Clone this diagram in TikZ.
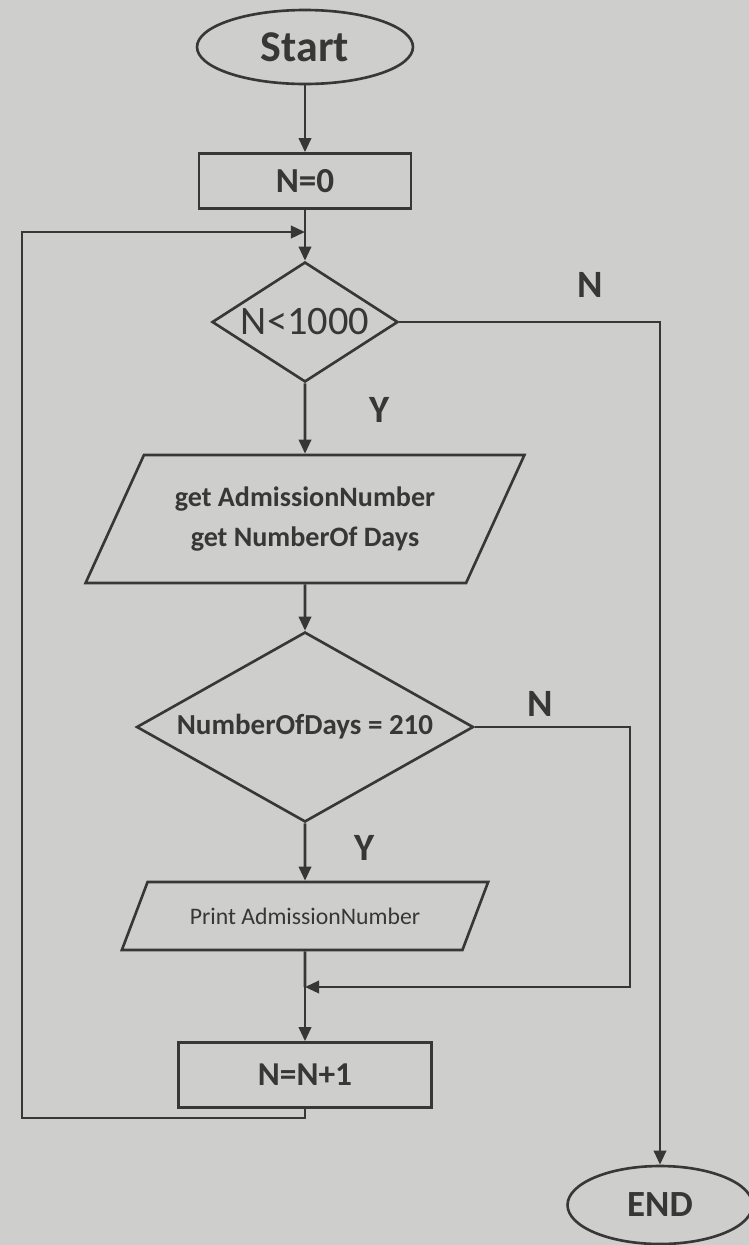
\documentclass[tikz,border=0pt]{standalone}
\usepackage{fontspec}
\setmainfont{Carlito}
\usetikzlibrary{arrows.meta, shapes.geometric, positioning}
\definecolor{paper}{RGB}{206,206,204}
\definecolor{ink}{RGB}{55,55,55}

\begin{document}
\begin{tikzpicture}[
		x = 0.02cm, y = -0.02cm, % one unit per pixel, y downwards
		> = {Triangle[length=8pt, width=7pt]}, % arrow head style
		line width = 1.5pt, % line style
		color = ink
		]
		
		\tikzstyle{terminal}=[draw, ellipse, inner sep=0pt, fill=paper]
		\tikzstyle{process}=[draw, rectangle, inner sep=0pt, fill=paper]
		\tikzstyle{decision}=[draw, diamond, inner sep=0pt, fill=paper]
		\tikzstyle{io}=[draw, trapezium, trapezium stretches=true, inner sep=0pt, fill=paper]
		\tikzstyle{answer}=[font=\bfseries\fontsize{22}{26}\selectfont]
		
		\useasboundingbox (0,0) rectangle (749,1245);
		\fill[paper] (0,0) rectangle (749,1245);
		
		\node[terminal, minimum width=4.32cm, minimum height=1.48cm, font=\bfseries\fontsize{25}{30}\selectfont] (start) at (305,47) {Start};
		\node[process, minimum width=4.24cm, minimum height=1.1cm, font=\bfseries\fontsize{20}{24}\selectfont] (init) at (305,181) {N=0};
		\node[decision, minimum width=3.72cm, minimum height=2.4cm, font=\fontsize{23}{28}\selectfont] (check_n) at (305,322) {\makebox[0pt]{N<1000}};
		\node[io, trapezium left angle=54, trapezium right angle=126, minimum width=8.8cm, minimum height=2.56cm, font=\bfseries\fontsize{16}{23}\selectfont, align=center] (read) at (305,519) {get AdmissionNumber\\get NumberOf Days};
		\node[decision, minimum width=6.74cm, minimum height=3.8cm, font=\bfseries\fontsize{16.5}{20}\selectfont] (check_days) at (305,727) {\makebox[0pt]{NumberOfDays = 210}};
		\node[io, trapezium left angle=41.5, trapezium right angle=138.5, minimum width=7.34cm, minimum height=1.36cm, font=\fontsize{13.5}{16}\selectfont] (print) at (305,916) {Print AdmissionNumber};
		\node[process, minimum width=5.06cm, minimum height=1.3cm, font=\bfseries\fontsize{19}{23}\selectfont] (incr) at (305,1075) {N=N+1};
		\node[terminal, minimum width=3.7cm, minimum height=1.56cm, font=\bfseries\fontsize{21}{25}\selectfont] (stop) at (660,1205) {END};
		
		\coordinate (join) at (305,232);
		\coordinate (merge) at (305,987);
		\coordinate (loop_corner) at (22,1118);
		\coordinate (side) at (630,850);
		
		\node[answer] (no_n) at (590,285) {N};
		\node[answer] (yes_n) at (380,410) {Y};
		\node[answer] (no_days) at (540,704) {N};
		\node[answer] (yes_days) at (365,848) {Y};
		
		\draw[->] (start) -- (init);
		\draw (init) -- (join);
		\draw[->] (join) -- (check_n);
		\draw[->] (check_n) -- (read);
		\draw[->] (read) -- (check_days);
		\draw[->] (check_days) -- (print);
		\draw (print) -- (merge);
		\draw[->] (merge) -- (incr);
		\draw[->] (incr.south) |- (loop_corner) |- (join);
		\draw[->] (check_days.east) -| (side) |- (merge);
		\draw[->] (check_n.east) -| (stop.north);
\end{tikzpicture}
\end{document}
